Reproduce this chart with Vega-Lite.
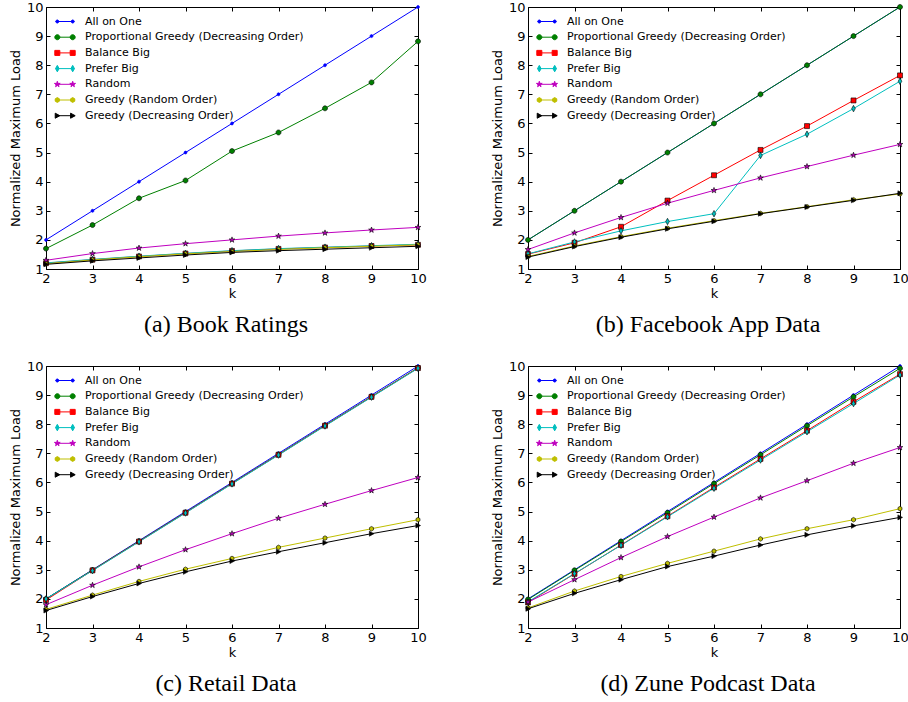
{
"$schema": "https://vega.github.io/schema/vega-lite/v6.json",
"background": "white",
"padding": {"left": 9, "top": 1, "right": 2, "bottom": 0},
"config": {
  "view": {"stroke": null},
  "font": "DejaVu Sans",
  "axis": {"labelFont": "DejaVu Sans", "labelFontSize": 13, "labelColor": "#000", "titleFont": "DejaVu Sans", "titleFontSize": 13, "titleFontWeight": "normal", "titleColor": "#000", "grid": false, "domainColor": "#000", "domainWidth": 1, "tickColor": "#000", "tickSize": -4, "tickWidth": 1, "labelPadding": 7, "labelFlush": false, "labelOverlap": false},
  "legend": {"labelFont": "DejaVu Sans", "labelFontSize": 11, "labelColor": "#000"}
},
"datasets": {"all": [
{"panel":"a","series":"All on One","k":2,"load":2},{"panel":"a","series":"All on One","k":3,"load":3},{"panel":"a","series":"All on One","k":4,"load":4},{"panel":"a","series":"All on One","k":5,"load":5},{"panel":"a","series":"All on One","k":6,"load":6},{"panel":"a","series":"All on One","k":7,"load":7},{"panel":"a","series":"All on One","k":8,"load":8},{"panel":"a","series":"All on One","k":9,"load":9},{"panel":"a","series":"All on One","k":10,"load":10},
{"panel":"a","series":"Proportional Greedy (Decreasing Order)","k":2,"load":1.70},{"panel":"a","series":"Proportional Greedy (Decreasing Order)","k":3,"load":2.51},{"panel":"a","series":"Proportional Greedy (Decreasing Order)","k":4,"load":3.43},{"panel":"a","series":"Proportional Greedy (Decreasing Order)","k":5,"load":4.04},{"panel":"a","series":"Proportional Greedy (Decreasing Order)","k":6,"load":5.05},{"panel":"a","series":"Proportional Greedy (Decreasing Order)","k":7,"load":5.69},{"panel":"a","series":"Proportional Greedy (Decreasing Order)","k":8,"load":6.52},{"panel":"a","series":"Proportional Greedy (Decreasing Order)","k":9,"load":7.41},{"panel":"a","series":"Proportional Greedy (Decreasing Order)","k":10,"load":8.82},
{"panel":"a","series":"Balance Big","k":2,"load":1.20},{"panel":"a","series":"Balance Big","k":3,"load":1.32},{"panel":"a","series":"Balance Big","k":4,"load":1.43},{"panel":"a","series":"Balance Big","k":5,"load":1.53},{"panel":"a","series":"Balance Big","k":6,"load":1.62},{"panel":"a","series":"Balance Big","k":7,"load":1.69},{"panel":"a","series":"Balance Big","k":8,"load":1.74},{"panel":"a","series":"Balance Big","k":9,"load":1.79},{"panel":"a","series":"Balance Big","k":10,"load":1.83},
{"panel":"a","series":"Prefer Big","k":2,"load":1.21},{"panel":"a","series":"Prefer Big","k":3,"load":1.33},{"panel":"a","series":"Prefer Big","k":4,"load":1.44},{"panel":"a","series":"Prefer Big","k":5,"load":1.54},{"panel":"a","series":"Prefer Big","k":6,"load":1.63},{"panel":"a","series":"Prefer Big","k":7,"load":1.70},{"panel":"a","series":"Prefer Big","k":8,"load":1.75},{"panel":"a","series":"Prefer Big","k":9,"load":1.80},{"panel":"a","series":"Prefer Big","k":10,"load":1.85},
{"panel":"a","series":"Random","k":2,"load":1.30},{"panel":"a","series":"Random","k":3,"load":1.53},{"panel":"a","series":"Random","k":4,"load":1.72},{"panel":"a","series":"Random","k":5,"load":1.87},{"panel":"a","series":"Random","k":6,"load":2.00},{"panel":"a","series":"Random","k":7,"load":2.13},{"panel":"a","series":"Random","k":8,"load":2.24},{"panel":"a","series":"Random","k":9,"load":2.34},{"panel":"a","series":"Random","k":10,"load":2.43},
{"panel":"a","series":"Greedy (Random Order)","k":2,"load":1.18},{"panel":"a","series":"Greedy (Random Order)","k":3,"load":1.31},{"panel":"a","series":"Greedy (Random Order)","k":4,"load":1.42},{"panel":"a","series":"Greedy (Random Order)","k":5,"load":1.52},{"panel":"a","series":"Greedy (Random Order)","k":6,"load":1.60},{"panel":"a","series":"Greedy (Random Order)","k":7,"load":1.67},{"panel":"a","series":"Greedy (Random Order)","k":8,"load":1.73},{"panel":"a","series":"Greedy (Random Order)","k":9,"load":1.78},{"panel":"a","series":"Greedy (Random Order)","k":10,"load":1.83},
{"panel":"a","series":"Greedy (Decreasing Order)","k":2,"load":1.16},{"panel":"a","series":"Greedy (Decreasing Order)","k":3,"load":1.28},{"panel":"a","series":"Greedy (Decreasing Order)","k":4,"load":1.38},{"panel":"a","series":"Greedy (Decreasing Order)","k":5,"load":1.48},{"panel":"a","series":"Greedy (Decreasing Order)","k":6,"load":1.57},{"panel":"a","series":"Greedy (Decreasing Order)","k":7,"load":1.63},{"panel":"a","series":"Greedy (Decreasing Order)","k":8,"load":1.68},{"panel":"a","series":"Greedy (Decreasing Order)","k":9,"load":1.73},{"panel":"a","series":"Greedy (Decreasing Order)","k":10,"load":1.78},

{"panel":"b","series":"All on One","k":2,"load":2},{"panel":"b","series":"All on One","k":3,"load":3},{"panel":"b","series":"All on One","k":4,"load":4},{"panel":"b","series":"All on One","k":5,"load":5},{"panel":"b","series":"All on One","k":6,"load":6},{"panel":"b","series":"All on One","k":7,"load":7},{"panel":"b","series":"All on One","k":8,"load":8},{"panel":"b","series":"All on One","k":9,"load":9},{"panel":"b","series":"All on One","k":10,"load":10},
{"panel":"b","series":"Proportional Greedy (Decreasing Order)","k":2,"load":2},{"panel":"b","series":"Proportional Greedy (Decreasing Order)","k":3,"load":3},{"panel":"b","series":"Proportional Greedy (Decreasing Order)","k":4,"load":4},{"panel":"b","series":"Proportional Greedy (Decreasing Order)","k":5,"load":5},{"panel":"b","series":"Proportional Greedy (Decreasing Order)","k":6,"load":6},{"panel":"b","series":"Proportional Greedy (Decreasing Order)","k":7,"load":7},{"panel":"b","series":"Proportional Greedy (Decreasing Order)","k":8,"load":8},{"panel":"b","series":"Proportional Greedy (Decreasing Order)","k":9,"load":9},{"panel":"b","series":"Proportional Greedy (Decreasing Order)","k":10,"load":10},
{"panel":"b","series":"Balance Big","k":2,"load":1.51},{"panel":"b","series":"Balance Big","k":3,"load":1.90},{"panel":"b","series":"Balance Big","k":4,"load":2.45},{"panel":"b","series":"Balance Big","k":5,"load":3.35},{"panel":"b","series":"Balance Big","k":6,"load":4.22},{"panel":"b","series":"Balance Big","k":7,"load":5.09},{"panel":"b","series":"Balance Big","k":8,"load":5.91},{"panel":"b","series":"Balance Big","k":9,"load":6.79},{"panel":"b","series":"Balance Big","k":10,"load":7.65},
{"panel":"b","series":"Prefer Big","k":2,"load":1.52},{"panel":"b","series":"Prefer Big","k":3,"load":1.93},{"panel":"b","series":"Prefer Big","k":4,"load":2.31},{"panel":"b","series":"Prefer Big","k":5,"load":2.63},{"panel":"b","series":"Prefer Big","k":6,"load":2.90},{"panel":"b","series":"Prefer Big","k":7,"load":4.90},{"panel":"b","series":"Prefer Big","k":8,"load":5.63},{"panel":"b","series":"Prefer Big","k":9,"load":6.51},{"panel":"b","series":"Prefer Big","k":10,"load":7.45},
{"panel":"b","series":"Random","k":2,"load":1.67},{"panel":"b","series":"Random","k":3,"load":2.24},{"panel":"b","series":"Random","k":4,"load":2.77},{"panel":"b","series":"Random","k":5,"load":3.26},{"panel":"b","series":"Random","k":6,"load":3.70},{"panel":"b","series":"Random","k":7,"load":4.13},{"panel":"b","series":"Random","k":8,"load":4.52},{"panel":"b","series":"Random","k":9,"load":4.91},{"panel":"b","series":"Random","k":10,"load":5.28},
{"panel":"b","series":"Greedy (Random Order)","k":2,"load":1.43},{"panel":"b","series":"Greedy (Random Order)","k":3,"load":1.79},{"panel":"b","series":"Greedy (Random Order)","k":4,"load":2.11},{"panel":"b","series":"Greedy (Random Order)","k":5,"load":2.40},{"panel":"b","series":"Greedy (Random Order)","k":6,"load":2.66},{"panel":"b","series":"Greedy (Random Order)","k":7,"load":2.91},{"panel":"b","series":"Greedy (Random Order)","k":8,"load":3.14},{"panel":"b","series":"Greedy (Random Order)","k":9,"load":3.38},{"panel":"b","series":"Greedy (Random Order)","k":10,"load":3.58},
{"panel":"b","series":"Greedy (Decreasing Order)","k":2,"load":1.41},{"panel":"b","series":"Greedy (Decreasing Order)","k":3,"load":1.77},{"panel":"b","series":"Greedy (Decreasing Order)","k":4,"load":2.09},{"panel":"b","series":"Greedy (Decreasing Order)","k":5,"load":2.38},{"panel":"b","series":"Greedy (Decreasing Order)","k":6,"load":2.64},{"panel":"b","series":"Greedy (Decreasing Order)","k":7,"load":2.90},{"panel":"b","series":"Greedy (Decreasing Order)","k":8,"load":3.13},{"panel":"b","series":"Greedy (Decreasing Order)","k":9,"load":3.36},{"panel":"b","series":"Greedy (Decreasing Order)","k":10,"load":3.60},

{"panel":"c","series":"All on One","k":2,"load":2},{"panel":"c","series":"All on One","k":3,"load":3},{"panel":"c","series":"All on One","k":4,"load":4},{"panel":"c","series":"All on One","k":5,"load":5},{"panel":"c","series":"All on One","k":6,"load":6},{"panel":"c","series":"All on One","k":7,"load":7},{"panel":"c","series":"All on One","k":8,"load":8},{"panel":"c","series":"All on One","k":9,"load":9},{"panel":"c","series":"All on One","k":10,"load":10},
{"panel":"c","series":"Proportional Greedy (Decreasing Order)","k":2,"load":2.00},{"panel":"c","series":"Proportional Greedy (Decreasing Order)","k":3,"load":2.99},{"panel":"c","series":"Proportional Greedy (Decreasing Order)","k":4,"load":3.98},{"panel":"c","series":"Proportional Greedy (Decreasing Order)","k":5,"load":4.97},{"panel":"c","series":"Proportional Greedy (Decreasing Order)","k":6,"load":5.97},{"panel":"c","series":"Proportional Greedy (Decreasing Order)","k":7,"load":6.96},{"panel":"c","series":"Proportional Greedy (Decreasing Order)","k":8,"load":7.96},{"panel":"c","series":"Proportional Greedy (Decreasing Order)","k":9,"load":8.95},{"panel":"c","series":"Proportional Greedy (Decreasing Order)","k":10,"load":9.94},
{"panel":"c","series":"Balance Big","k":2,"load":1.96},{"panel":"c","series":"Balance Big","k":3,"load":2.98},{"panel":"c","series":"Balance Big","k":4,"load":3.97},{"panel":"c","series":"Balance Big","k":5,"load":4.96},{"panel":"c","series":"Balance Big","k":6,"load":5.96},{"panel":"c","series":"Balance Big","k":7,"load":6.95},{"panel":"c","series":"Balance Big","k":8,"load":7.95},{"panel":"c","series":"Balance Big","k":9,"load":8.94},{"panel":"c","series":"Balance Big","k":10,"load":9.93},
{"panel":"c","series":"Prefer Big","k":2,"load":2.00},{"panel":"c","series":"Prefer Big","k":3,"load":2.97},{"panel":"c","series":"Prefer Big","k":4,"load":3.96},{"panel":"c","series":"Prefer Big","k":5,"load":4.95},{"panel":"c","series":"Prefer Big","k":6,"load":5.95},{"panel":"c","series":"Prefer Big","k":7,"load":6.94},{"panel":"c","series":"Prefer Big","k":8,"load":7.94},{"panel":"c","series":"Prefer Big","k":9,"load":8.93},{"panel":"c","series":"Prefer Big","k":10,"load":9.92},
{"panel":"c","series":"Random","k":2,"load":1.80},{"panel":"c","series":"Random","k":3,"load":2.47},{"panel":"c","series":"Random","k":4,"load":3.10},{"panel":"c","series":"Random","k":5,"load":3.69},{"panel":"c","series":"Random","k":6,"load":4.24},{"panel":"c","series":"Random","k":7,"load":4.77},{"panel":"c","series":"Random","k":8,"load":5.25},{"panel":"c","series":"Random","k":9,"load":5.72},{"panel":"c","series":"Random","k":10,"load":6.17},
{"panel":"c","series":"Greedy (Random Order)","k":2,"load":1.64},{"panel":"c","series":"Greedy (Random Order)","k":3,"load":2.13},{"panel":"c","series":"Greedy (Random Order)","k":4,"load":2.60},{"panel":"c","series":"Greedy (Random Order)","k":5,"load":3.02},{"panel":"c","series":"Greedy (Random Order)","k":6,"load":3.39},{"panel":"c","series":"Greedy (Random Order)","k":7,"load":3.77},{"panel":"c","series":"Greedy (Random Order)","k":8,"load":4.09},{"panel":"c","series":"Greedy (Random Order)","k":9,"load":4.41},{"panel":"c","series":"Greedy (Random Order)","k":10,"load":4.72},
{"panel":"c","series":"Greedy (Decreasing Order)","k":2,"load":1.60},{"panel":"c","series":"Greedy (Decreasing Order)","k":3,"load":2.08},{"panel":"c","series":"Greedy (Decreasing Order)","k":4,"load":2.53},{"panel":"c","series":"Greedy (Decreasing Order)","k":5,"load":2.93},{"panel":"c","series":"Greedy (Decreasing Order)","k":6,"load":3.30},{"panel":"c","series":"Greedy (Decreasing Order)","k":7,"load":3.62},{"panel":"c","series":"Greedy (Decreasing Order)","k":8,"load":3.93},{"panel":"c","series":"Greedy (Decreasing Order)","k":9,"load":4.24},{"panel":"c","series":"Greedy (Decreasing Order)","k":10,"load":4.52},

{"panel":"d","series":"All on One","k":2,"load":2},{"panel":"d","series":"All on One","k":3,"load":3},{"panel":"d","series":"All on One","k":4,"load":4},{"panel":"d","series":"All on One","k":5,"load":5},{"panel":"d","series":"All on One","k":6,"load":6},{"panel":"d","series":"All on One","k":7,"load":7},{"panel":"d","series":"All on One","k":8,"load":8},{"panel":"d","series":"All on One","k":9,"load":9},{"panel":"d","series":"All on One","k":10,"load":10},
{"panel":"d","series":"Proportional Greedy (Decreasing Order)","k":2,"load":1.98},{"panel":"d","series":"Proportional Greedy (Decreasing Order)","k":3,"load":2.98},{"panel":"d","series":"Proportional Greedy (Decreasing Order)","k":4,"load":3.97},{"panel":"d","series":"Proportional Greedy (Decreasing Order)","k":5,"load":4.96},{"panel":"d","series":"Proportional Greedy (Decreasing Order)","k":6,"load":5.96},{"panel":"d","series":"Proportional Greedy (Decreasing Order)","k":7,"load":6.95},{"panel":"d","series":"Proportional Greedy (Decreasing Order)","k":8,"load":7.95},{"panel":"d","series":"Proportional Greedy (Decreasing Order)","k":9,"load":8.94},{"panel":"d","series":"Proportional Greedy (Decreasing Order)","k":10,"load":9.92},
{"panel":"d","series":"Balance Big","k":2,"load":1.88},{"panel":"d","series":"Balance Big","k":3,"load":2.86},{"panel":"d","series":"Balance Big","k":4,"load":3.85},{"panel":"d","series":"Balance Big","k":5,"load":4.84},{"panel":"d","series":"Balance Big","k":6,"load":5.83},{"panel":"d","series":"Balance Big","k":7,"load":6.81},{"panel":"d","series":"Balance Big","k":8,"load":7.78},{"panel":"d","series":"Balance Big","k":9,"load":8.77},{"panel":"d","series":"Balance Big","k":10,"load":9.72},
{"panel":"d","series":"Prefer Big","k":2,"load":1.90},{"panel":"d","series":"Prefer Big","k":3,"load":2.87},{"panel":"d","series":"Prefer Big","k":4,"load":3.84},{"panel":"d","series":"Prefer Big","k":5,"load":4.82},{"panel":"d","series":"Prefer Big","k":6,"load":5.80},{"panel":"d","series":"Prefer Big","k":7,"load":6.77},{"panel":"d","series":"Prefer Big","k":8,"load":7.74},{"panel":"d","series":"Prefer Big","k":9,"load":8.71},{"panel":"d","series":"Prefer Big","k":10,"load":9.69},
{"panel":"d","series":"Random","k":2,"load":1.89},{"panel":"d","series":"Random","k":3,"load":2.66},{"panel":"d","series":"Random","k":4,"load":3.42},{"panel":"d","series":"Random","k":5,"load":4.14},{"panel":"d","series":"Random","k":6,"load":4.81},{"panel":"d","series":"Random","k":7,"load":5.47},{"panel":"d","series":"Random","k":8,"load":6.06},{"panel":"d","series":"Random","k":9,"load":6.66},{"panel":"d","series":"Random","k":10,"load":7.20},
{"panel":"d","series":"Greedy (Random Order)","k":2,"load":1.69},{"panel":"d","series":"Greedy (Random Order)","k":3,"load":2.27},{"panel":"d","series":"Greedy (Random Order)","k":4,"load":2.77},{"panel":"d","series":"Greedy (Random Order)","k":5,"load":3.22},{"panel":"d","series":"Greedy (Random Order)","k":6,"load":3.64},{"panel":"d","series":"Greedy (Random Order)","k":7,"load":4.06},{"panel":"d","series":"Greedy (Random Order)","k":8,"load":4.41},{"panel":"d","series":"Greedy (Random Order)","k":9,"load":4.72},{"panel":"d","series":"Greedy (Random Order)","k":10,"load":5.10},
{"panel":"d","series":"Greedy (Decreasing Order)","k":2,"load":1.66},{"panel":"d","series":"Greedy (Decreasing Order)","k":3,"load":2.19},{"panel":"d","series":"Greedy (Decreasing Order)","k":4,"load":2.66},{"panel":"d","series":"Greedy (Decreasing Order)","k":5,"load":3.11},{"panel":"d","series":"Greedy (Decreasing Order)","k":6,"load":3.47},{"panel":"d","series":"Greedy (Decreasing Order)","k":7,"load":3.85},{"panel":"d","series":"Greedy (Decreasing Order)","k":8,"load":4.20},{"panel":"d","series":"Greedy (Decreasing Order)","k":9,"load":4.51},{"panel":"d","series":"Greedy (Decreasing Order)","k":10,"load":4.80}
]},
"data": {"name": "all"},
"spacing": 23,
"vconcat": [
{"hconcat": [
{"width": 372, "height": 262,
 "title": {"text": "(a) Book Ratings", "orient": "bottom", "font": "Liberation Serif", "fontSize": 24, "fontWeight": "normal", "color": "#000", "offset": 13, "dx": -6},
 "transform": [{"filter": "datum.panel === 'a'"}],
 "layer": [
  {"mark": {"type": "line", "strokeWidth": 1},
   "encoding": {
    "x": {"field": "k", "type": "quantitative", "scale": {"domain": [2, 10], "nice": false, "zero": false}, "axis": {"orient": "bottom", "values": [2,3,4,5,6,7,8,9,10], "title": "k", "titlePadding": 2}},
    "y": {"field": "load", "type": "quantitative", "scale": {"domain": [1, 10], "nice": false, "zero": false}, "axis": {"orient": "left", "values": [1,2,3,4,5,6,7,8,9,10], "title": "Normalized Maximum Load", "titlePadding": 4}},
    "color": {"field": "series", "type": "nominal", "scale": {"domain": ["All on One","Proportional Greedy (Decreasing Order)","Balance Big","Prefer Big","Random","Greedy (Random Order)","Greedy (Decreasing Order)"], "range": ["#0000ff","#008000","#ff0000","#00bfbf","#bf00bf","#bfbf00","#000000"]}, "legend": null}}},
  {"mark": {"type": "point", "filled": true, "opacity": 1, "strokeWidth": 0.6, "size": 100},
   "encoding": {
    "x": {"field": "k", "type": "quantitative", "axis": null},
    "y": {"field": "load", "type": "quantitative", "axis": null},
    "color": {"field": "series", "type": "nominal", "legend": null},
    "stroke": {"field": "series", "type": "nominal", "scale": {"domain": ["All on One","Proportional Greedy (Decreasing Order)","Balance Big","Prefer Big","Random","Greedy (Random Order)","Greedy (Decreasing Order)"], "range": ["#0000ff","#000000","#000000","#000000","#000000","#000000","#000000"]}, "legend": null},
    "shape": {"field": "series", "type": "nominal", "scale": {"domain": ["All on One","Proportional Greedy (Decreasing Order)","Balance Big","Prefer Big","Random","Greedy (Random Order)","Greedy (Decreasing Order)"], "range": ["M-0.3,0A0.3,0.3 0 1,0 0.3,0A0.3,0.3 0 1,0 -0.3,0Z","M-0.5,0A0.5,0.5 0 1,0 0.5,0A0.5,0.5 0 1,0 -0.5,0Z","M-0.5,-0.5H0.5V0.5H-0.5Z","M0,-0.65L0.36,0L0,0.65L-0.36,0Z","M0,-0.6L0.135,-0.185L0.571,-0.185L0.218,0.071L0.353,0.485L0,0.229L-0.353,0.485L-0.218,0.071L-0.571,-0.185L-0.135,-0.185Z","M0,-0.46L0.4,-0.23L0.4,0.23L0,0.46L-0.4,0.23L-0.4,-0.23Z","M0.5,0L-0.42,-0.5L-0.42,0.5Z"]}, "legend": null}}},
  {"transform": [{"filter": "datum.k > 100"}],
   "mark": {"type": "point", "filled": true, "opacity": 1, "strokeWidth": 1},
   "encoding": {
    "x": {"field": "k", "type": "quantitative", "axis": {"orient": "top", "values": [2,3,4,5,6,7,8,9,10], "labels": false, "title": null}},
    "y": {"field": "load", "type": "quantitative", "axis": {"orient": "right", "values": [1,2,3,4,5,6,7,8,9,10], "labels": false, "title": null}},
    "fill": {"field": "series", "type": "nominal", "scale": {"domain": ["All on One","Proportional Greedy (Decreasing Order)","Balance Big","Prefer Big","Random","Greedy (Random Order)","Greedy (Decreasing Order)"], "range": ["#0000ff","#008000","#ff0000","#00bfbf","#bf00bf","#bfbf00","#000000"]}, "legend": {"title": null, "orient": "none", "legendX": 12.5, "legendY": 8, "padding": 0, "symbolSize": 144, "rowPadding": 3.7, "labelOffset": 13.5, "labelFontSize": 11, "symbolStrokeWidth": 1, "labelLimit": 400}},
    "stroke": {"field": "series", "type": "nominal", "scale": {"domain": ["All on One","Proportional Greedy (Decreasing Order)","Balance Big","Prefer Big","Random","Greedy (Random Order)","Greedy (Decreasing Order)"], "range": ["#0000ff","#008000","#ff0000","#00bfbf","#bf00bf","#bfbf00","#000000"]}, "legend": {"title": null, "orient": "none", "legendX": 12.5, "legendY": 8, "padding": 0, "symbolSize": 144, "rowPadding": 3.7, "labelOffset": 13.5, "labelFontSize": 11, "symbolStrokeWidth": 1, "labelLimit": 400}},
    "shape": {"field": "series", "type": "nominal", "scale": {"domain": ["All on One","Proportional Greedy (Decreasing Order)","Balance Big","Prefer Big","Random","Greedy (Random Order)","Greedy (Decreasing Order)"], "range": ["M-1.58,0H1.58M-1.53,0A0.25,0.25 0 1,0 -1.03,0A0.25,0.25 0 1,0 -1.53,0ZM1.03,0A0.25,0.25 0 1,0 1.53,0A0.25,0.25 0 1,0 1.03,0Z","M-1.58,0H1.58M-1.70,0A0.42,0.42 0 1,0 -0.86,0A0.42,0.42 0 1,0 -1.70,0ZM0.86,0A0.42,0.42 0 1,0 1.70,0A0.42,0.42 0 1,0 0.86,0Z","M-1.58,0H1.58M-1.70,-0.42H-0.86V0.42H-1.70ZM0.86,-0.42H1.70V0.42H0.86Z","M-1.58,0H1.58M-1.28,-0.54L-0.98,0L-1.28,0.54L-1.58,0ZM1.28,-0.54L1.58,0L1.28,0.54L0.98,0Z","M-1.58,0H1.58M-1.28,-0.5L-1.17,-0.15L-0.80,-0.15L-1.10,0.06L-0.99,0.40L-1.28,0.19L-1.57,0.40L-1.46,0.06L-1.76,-0.15L-1.39,-0.15ZM1.28,-0.5L1.39,-0.15L1.76,-0.15L1.46,0.06L1.57,0.40L1.28,0.19L0.99,0.40L1.10,0.06L0.80,-0.15L1.17,-0.15Z","M-1.58,0H1.58M-1.28,-0.40L-0.93,-0.20L-0.93,0.20L-1.28,0.40L-1.63,0.20L-1.63,-0.20ZM1.28,-0.40L1.63,-0.20L1.63,0.20L1.28,0.40L0.93,0.20L0.93,-0.20Z","M-1.58,0H1.58M-0.86,0L-1.63,-0.42L-1.63,0.42ZM1.70,0L0.93,-0.42L0.93,0.42Z"]}, "legend": {"title": null, "orient": "none", "legendX": 12.5, "legendY": 8, "padding": 0, "symbolSize": 144, "rowPadding": 3.7, "labelOffset": 13.5, "labelFontSize": 11, "symbolStrokeWidth": 1, "labelLimit": 400}}}}
 ],
 "resolve": {"scale": {"shape": "independent", "fill": "independent", "stroke": "independent"}, "axis": {"x": "independent", "y": "independent"}}
},
{"width": 372, "height": 262,
 "title": {"text": "(b) Facebook App Data", "orient": "bottom", "font": "Liberation Serif", "fontSize": 24, "fontWeight": "normal", "color": "#000", "offset": 13, "dx": -6},
 "transform": [{"filter": "datum.panel === 'b'"}],
 "layer": [
  {"mark": {"type": "line", "strokeWidth": 1},
   "encoding": {
    "x": {"field": "k", "type": "quantitative", "scale": {"domain": [2, 10], "nice": false, "zero": false}, "axis": {"orient": "bottom", "values": [2,3,4,5,6,7,8,9,10], "title": "k", "titlePadding": 2}},
    "y": {"field": "load", "type": "quantitative", "scale": {"domain": [1, 10], "nice": false, "zero": false}, "axis": {"orient": "left", "values": [1,2,3,4,5,6,7,8,9,10], "title": "Normalized Maximum Load", "titlePadding": 4}},
    "color": {"field": "series", "type": "nominal", "scale": {"domain": ["All on One","Proportional Greedy (Decreasing Order)","Balance Big","Prefer Big","Random","Greedy (Random Order)","Greedy (Decreasing Order)"], "range": ["#0000ff","#008000","#ff0000","#00bfbf","#bf00bf","#bfbf00","#000000"]}, "legend": null}}},
  {"mark": {"type": "point", "filled": true, "opacity": 1, "strokeWidth": 0.6, "size": 100},
   "encoding": {
    "x": {"field": "k", "type": "quantitative", "axis": null},
    "y": {"field": "load", "type": "quantitative", "axis": null},
    "color": {"field": "series", "type": "nominal", "legend": null},
    "stroke": {"field": "series", "type": "nominal", "scale": {"domain": ["All on One","Proportional Greedy (Decreasing Order)","Balance Big","Prefer Big","Random","Greedy (Random Order)","Greedy (Decreasing Order)"], "range": ["#0000ff","#000000","#000000","#000000","#000000","#000000","#000000"]}, "legend": null},
    "shape": {"field": "series", "type": "nominal", "scale": {"domain": ["All on One","Proportional Greedy (Decreasing Order)","Balance Big","Prefer Big","Random","Greedy (Random Order)","Greedy (Decreasing Order)"], "range": ["M-0.3,0A0.3,0.3 0 1,0 0.3,0A0.3,0.3 0 1,0 -0.3,0Z","M-0.5,0A0.5,0.5 0 1,0 0.5,0A0.5,0.5 0 1,0 -0.5,0Z","M-0.5,-0.5H0.5V0.5H-0.5Z","M0,-0.65L0.36,0L0,0.65L-0.36,0Z","M0,-0.6L0.135,-0.185L0.571,-0.185L0.218,0.071L0.353,0.485L0,0.229L-0.353,0.485L-0.218,0.071L-0.571,-0.185L-0.135,-0.185Z","M0,-0.46L0.4,-0.23L0.4,0.23L0,0.46L-0.4,0.23L-0.4,-0.23Z","M0.5,0L-0.42,-0.5L-0.42,0.5Z"]}, "legend": null}}},
  {"transform": [{"filter": "datum.k > 100"}],
   "mark": {"type": "point", "filled": true, "opacity": 1, "strokeWidth": 1},
   "encoding": {
    "x": {"field": "k", "type": "quantitative", "axis": {"orient": "top", "values": [2,3,4,5,6,7,8,9,10], "labels": false, "title": null}},
    "y": {"field": "load", "type": "quantitative", "axis": {"orient": "right", "values": [1,2,3,4,5,6,7,8,9,10], "labels": false, "title": null}},
    "fill": {"field": "series", "type": "nominal", "scale": {"domain": ["All on One","Proportional Greedy (Decreasing Order)","Balance Big","Prefer Big","Random","Greedy (Random Order)","Greedy (Decreasing Order)"], "range": ["#0000ff","#008000","#ff0000","#00bfbf","#bf00bf","#bfbf00","#000000"]}, "legend": {"title": null, "orient": "none", "legendX": 12.5, "legendY": 8, "padding": 0, "symbolSize": 144, "rowPadding": 3.7, "labelOffset": 13.5, "labelFontSize": 11, "symbolStrokeWidth": 1, "labelLimit": 400}},
    "stroke": {"field": "series", "type": "nominal", "scale": {"domain": ["All on One","Proportional Greedy (Decreasing Order)","Balance Big","Prefer Big","Random","Greedy (Random Order)","Greedy (Decreasing Order)"], "range": ["#0000ff","#008000","#ff0000","#00bfbf","#bf00bf","#bfbf00","#000000"]}, "legend": {"title": null, "orient": "none", "legendX": 12.5, "legendY": 8, "padding": 0, "symbolSize": 144, "rowPadding": 3.7, "labelOffset": 13.5, "labelFontSize": 11, "symbolStrokeWidth": 1, "labelLimit": 400}},
    "shape": {"field": "series", "type": "nominal", "scale": {"domain": ["All on One","Proportional Greedy (Decreasing Order)","Balance Big","Prefer Big","Random","Greedy (Random Order)","Greedy (Decreasing Order)"], "range": ["M-1.58,0H1.58M-1.53,0A0.25,0.25 0 1,0 -1.03,0A0.25,0.25 0 1,0 -1.53,0ZM1.03,0A0.25,0.25 0 1,0 1.53,0A0.25,0.25 0 1,0 1.03,0Z","M-1.58,0H1.58M-1.70,0A0.42,0.42 0 1,0 -0.86,0A0.42,0.42 0 1,0 -1.70,0ZM0.86,0A0.42,0.42 0 1,0 1.70,0A0.42,0.42 0 1,0 0.86,0Z","M-1.58,0H1.58M-1.70,-0.42H-0.86V0.42H-1.70ZM0.86,-0.42H1.70V0.42H0.86Z","M-1.58,0H1.58M-1.28,-0.54L-0.98,0L-1.28,0.54L-1.58,0ZM1.28,-0.54L1.58,0L1.28,0.54L0.98,0Z","M-1.58,0H1.58M-1.28,-0.5L-1.17,-0.15L-0.80,-0.15L-1.10,0.06L-0.99,0.40L-1.28,0.19L-1.57,0.40L-1.46,0.06L-1.76,-0.15L-1.39,-0.15ZM1.28,-0.5L1.39,-0.15L1.76,-0.15L1.46,0.06L1.57,0.40L1.28,0.19L0.99,0.40L1.10,0.06L0.80,-0.15L1.17,-0.15Z","M-1.58,0H1.58M-1.28,-0.40L-0.93,-0.20L-0.93,0.20L-1.28,0.40L-1.63,0.20L-1.63,-0.20ZM1.28,-0.40L1.63,-0.20L1.63,0.20L1.28,0.40L0.93,0.20L0.93,-0.20Z","M-1.58,0H1.58M-0.86,0L-1.63,-0.42L-1.63,0.42ZM1.70,0L0.93,-0.42L0.93,0.42Z"]}, "legend": {"title": null, "orient": "none", "legendX": 12.5, "legendY": 8, "padding": 0, "symbolSize": 144, "rowPadding": 3.7, "labelOffset": 13.5, "labelFontSize": 11, "symbolStrokeWidth": 1, "labelLimit": 400}}}}
 ],
 "resolve": {"scale": {"shape": "independent", "fill": "independent", "stroke": "independent"}, "axis": {"x": "independent", "y": "independent"}}
}
], "spacing": 64},
{"hconcat": [
{"width": 372, "height": 262,
 "title": {"text": "(c) Retail Data", "orient": "bottom", "font": "Liberation Serif", "fontSize": 24, "fontWeight": "normal", "color": "#000", "offset": 13, "dx": -6},
 "transform": [{"filter": "datum.panel === 'c'"}],
 "layer": [
  {"mark": {"type": "line", "strokeWidth": 1},
   "encoding": {
    "x": {"field": "k", "type": "quantitative", "scale": {"domain": [2, 10], "nice": false, "zero": false}, "axis": {"orient": "bottom", "values": [2,3,4,5,6,7,8,9,10], "title": "k", "titlePadding": 2}},
    "y": {"field": "load", "type": "quantitative", "scale": {"domain": [1, 10], "nice": false, "zero": false}, "axis": {"orient": "left", "values": [1,2,3,4,5,6,7,8,9,10], "title": "Normalized Maximum Load", "titlePadding": 4}},
    "color": {"field": "series", "type": "nominal", "scale": {"domain": ["All on One","Proportional Greedy (Decreasing Order)","Balance Big","Prefer Big","Random","Greedy (Random Order)","Greedy (Decreasing Order)"], "range": ["#0000ff","#008000","#ff0000","#00bfbf","#bf00bf","#bfbf00","#000000"]}, "legend": null}}},
  {"mark": {"type": "point", "filled": true, "opacity": 1, "strokeWidth": 0.6, "size": 100},
   "encoding": {
    "x": {"field": "k", "type": "quantitative", "axis": null},
    "y": {"field": "load", "type": "quantitative", "axis": null},
    "color": {"field": "series", "type": "nominal", "legend": null},
    "stroke": {"field": "series", "type": "nominal", "scale": {"domain": ["All on One","Proportional Greedy (Decreasing Order)","Balance Big","Prefer Big","Random","Greedy (Random Order)","Greedy (Decreasing Order)"], "range": ["#0000ff","#000000","#000000","#000000","#000000","#000000","#000000"]}, "legend": null},
    "shape": {"field": "series", "type": "nominal", "scale": {"domain": ["All on One","Proportional Greedy (Decreasing Order)","Balance Big","Prefer Big","Random","Greedy (Random Order)","Greedy (Decreasing Order)"], "range": ["M-0.3,0A0.3,0.3 0 1,0 0.3,0A0.3,0.3 0 1,0 -0.3,0Z","M-0.5,0A0.5,0.5 0 1,0 0.5,0A0.5,0.5 0 1,0 -0.5,0Z","M-0.5,-0.5H0.5V0.5H-0.5Z","M0,-0.65L0.36,0L0,0.65L-0.36,0Z","M0,-0.6L0.135,-0.185L0.571,-0.185L0.218,0.071L0.353,0.485L0,0.229L-0.353,0.485L-0.218,0.071L-0.571,-0.185L-0.135,-0.185Z","M0,-0.46L0.4,-0.23L0.4,0.23L0,0.46L-0.4,0.23L-0.4,-0.23Z","M0.5,0L-0.42,-0.5L-0.42,0.5Z"]}, "legend": null}}},
  {"transform": [{"filter": "datum.k > 100"}],
   "mark": {"type": "point", "filled": true, "opacity": 1, "strokeWidth": 1},
   "encoding": {
    "x": {"field": "k", "type": "quantitative", "axis": {"orient": "top", "values": [2,3,4,5,6,7,8,9,10], "labels": false, "title": null}},
    "y": {"field": "load", "type": "quantitative", "axis": {"orient": "right", "values": [1,2,3,4,5,6,7,8,9,10], "labels": false, "title": null}},
    "fill": {"field": "series", "type": "nominal", "scale": {"domain": ["All on One","Proportional Greedy (Decreasing Order)","Balance Big","Prefer Big","Random","Greedy (Random Order)","Greedy (Decreasing Order)"], "range": ["#0000ff","#008000","#ff0000","#00bfbf","#bf00bf","#bfbf00","#000000"]}, "legend": {"title": null, "orient": "none", "legendX": 12.5, "legendY": 8, "padding": 0, "symbolSize": 144, "rowPadding": 3.7, "labelOffset": 13.5, "labelFontSize": 11, "symbolStrokeWidth": 1, "labelLimit": 400}},
    "stroke": {"field": "series", "type": "nominal", "scale": {"domain": ["All on One","Proportional Greedy (Decreasing Order)","Balance Big","Prefer Big","Random","Greedy (Random Order)","Greedy (Decreasing Order)"], "range": ["#0000ff","#008000","#ff0000","#00bfbf","#bf00bf","#bfbf00","#000000"]}, "legend": {"title": null, "orient": "none", "legendX": 12.5, "legendY": 8, "padding": 0, "symbolSize": 144, "rowPadding": 3.7, "labelOffset": 13.5, "labelFontSize": 11, "symbolStrokeWidth": 1, "labelLimit": 400}},
    "shape": {"field": "series", "type": "nominal", "scale": {"domain": ["All on One","Proportional Greedy (Decreasing Order)","Balance Big","Prefer Big","Random","Greedy (Random Order)","Greedy (Decreasing Order)"], "range": ["M-1.58,0H1.58M-1.53,0A0.25,0.25 0 1,0 -1.03,0A0.25,0.25 0 1,0 -1.53,0ZM1.03,0A0.25,0.25 0 1,0 1.53,0A0.25,0.25 0 1,0 1.03,0Z","M-1.58,0H1.58M-1.70,0A0.42,0.42 0 1,0 -0.86,0A0.42,0.42 0 1,0 -1.70,0ZM0.86,0A0.42,0.42 0 1,0 1.70,0A0.42,0.42 0 1,0 0.86,0Z","M-1.58,0H1.58M-1.70,-0.42H-0.86V0.42H-1.70ZM0.86,-0.42H1.70V0.42H0.86Z","M-1.58,0H1.58M-1.28,-0.54L-0.98,0L-1.28,0.54L-1.58,0ZM1.28,-0.54L1.58,0L1.28,0.54L0.98,0Z","M-1.58,0H1.58M-1.28,-0.5L-1.17,-0.15L-0.80,-0.15L-1.10,0.06L-0.99,0.40L-1.28,0.19L-1.57,0.40L-1.46,0.06L-1.76,-0.15L-1.39,-0.15ZM1.28,-0.5L1.39,-0.15L1.76,-0.15L1.46,0.06L1.57,0.40L1.28,0.19L0.99,0.40L1.10,0.06L0.80,-0.15L1.17,-0.15Z","M-1.58,0H1.58M-1.28,-0.40L-0.93,-0.20L-0.93,0.20L-1.28,0.40L-1.63,0.20L-1.63,-0.20ZM1.28,-0.40L1.63,-0.20L1.63,0.20L1.28,0.40L0.93,0.20L0.93,-0.20Z","M-1.58,0H1.58M-0.86,0L-1.63,-0.42L-1.63,0.42ZM1.70,0L0.93,-0.42L0.93,0.42Z"]}, "legend": {"title": null, "orient": "none", "legendX": 12.5, "legendY": 8, "padding": 0, "symbolSize": 144, "rowPadding": 3.7, "labelOffset": 13.5, "labelFontSize": 11, "symbolStrokeWidth": 1, "labelLimit": 400}}}}
 ],
 "resolve": {"scale": {"shape": "independent", "fill": "independent", "stroke": "independent"}, "axis": {"x": "independent", "y": "independent"}}
},
{"width": 372, "height": 262,
 "title": {"text": "(d) Zune Podcast Data", "orient": "bottom", "font": "Liberation Serif", "fontSize": 24, "fontWeight": "normal", "color": "#000", "offset": 13, "dx": -6},
 "transform": [{"filter": "datum.panel === 'd'"}],
 "layer": [
  {"mark": {"type": "line", "strokeWidth": 1},
   "encoding": {
    "x": {"field": "k", "type": "quantitative", "scale": {"domain": [2, 10], "nice": false, "zero": false}, "axis": {"orient": "bottom", "values": [2,3,4,5,6,7,8,9,10], "title": "k", "titlePadding": 2}},
    "y": {"field": "load", "type": "quantitative", "scale": {"domain": [1, 10], "nice": false, "zero": false}, "axis": {"orient": "left", "values": [1,2,3,4,5,6,7,8,9,10], "title": "Normalized Maximum Load", "titlePadding": 4}},
    "color": {"field": "series", "type": "nominal", "scale": {"domain": ["All on One","Proportional Greedy (Decreasing Order)","Balance Big","Prefer Big","Random","Greedy (Random Order)","Greedy (Decreasing Order)"], "range": ["#0000ff","#008000","#ff0000","#00bfbf","#bf00bf","#bfbf00","#000000"]}, "legend": null}}},
  {"mark": {"type": "point", "filled": true, "opacity": 1, "strokeWidth": 0.6, "size": 100},
   "encoding": {
    "x": {"field": "k", "type": "quantitative", "axis": null},
    "y": {"field": "load", "type": "quantitative", "axis": null},
    "color": {"field": "series", "type": "nominal", "legend": null},
    "stroke": {"field": "series", "type": "nominal", "scale": {"domain": ["All on One","Proportional Greedy (Decreasing Order)","Balance Big","Prefer Big","Random","Greedy (Random Order)","Greedy (Decreasing Order)"], "range": ["#0000ff","#000000","#000000","#000000","#000000","#000000","#000000"]}, "legend": null},
    "shape": {"field": "series", "type": "nominal", "scale": {"domain": ["All on One","Proportional Greedy (Decreasing Order)","Balance Big","Prefer Big","Random","Greedy (Random Order)","Greedy (Decreasing Order)"], "range": ["M-0.3,0A0.3,0.3 0 1,0 0.3,0A0.3,0.3 0 1,0 -0.3,0Z","M-0.5,0A0.5,0.5 0 1,0 0.5,0A0.5,0.5 0 1,0 -0.5,0Z","M-0.5,-0.5H0.5V0.5H-0.5Z","M0,-0.65L0.36,0L0,0.65L-0.36,0Z","M0,-0.6L0.135,-0.185L0.571,-0.185L0.218,0.071L0.353,0.485L0,0.229L-0.353,0.485L-0.218,0.071L-0.571,-0.185L-0.135,-0.185Z","M0,-0.46L0.4,-0.23L0.4,0.23L0,0.46L-0.4,0.23L-0.4,-0.23Z","M0.5,0L-0.42,-0.5L-0.42,0.5Z"]}, "legend": null}}},
  {"transform": [{"filter": "datum.k > 100"}],
   "mark": {"type": "point", "filled": true, "opacity": 1, "strokeWidth": 1},
   "encoding": {
    "x": {"field": "k", "type": "quantitative", "axis": {"orient": "top", "values": [2,3,4,5,6,7,8,9,10], "labels": false, "title": null}},
    "y": {"field": "load", "type": "quantitative", "axis": {"orient": "right", "values": [1,2,3,4,5,6,7,8,9,10], "labels": false, "title": null}},
    "fill": {"field": "series", "type": "nominal", "scale": {"domain": ["All on One","Proportional Greedy (Decreasing Order)","Balance Big","Prefer Big","Random","Greedy (Random Order)","Greedy (Decreasing Order)"], "range": ["#0000ff","#008000","#ff0000","#00bfbf","#bf00bf","#bfbf00","#000000"]}, "legend": {"title": null, "orient": "none", "legendX": 12.5, "legendY": 8, "padding": 0, "symbolSize": 144, "rowPadding": 3.7, "labelOffset": 13.5, "labelFontSize": 11, "symbolStrokeWidth": 1, "labelLimit": 400}},
    "stroke": {"field": "series", "type": "nominal", "scale": {"domain": ["All on One","Proportional Greedy (Decreasing Order)","Balance Big","Prefer Big","Random","Greedy (Random Order)","Greedy (Decreasing Order)"], "range": ["#0000ff","#008000","#ff0000","#00bfbf","#bf00bf","#bfbf00","#000000"]}, "legend": {"title": null, "orient": "none", "legendX": 12.5, "legendY": 8, "padding": 0, "symbolSize": 144, "rowPadding": 3.7, "labelOffset": 13.5, "labelFontSize": 11, "symbolStrokeWidth": 1, "labelLimit": 400}},
    "shape": {"field": "series", "type": "nominal", "scale": {"domain": ["All on One","Proportional Greedy (Decreasing Order)","Balance Big","Prefer Big","Random","Greedy (Random Order)","Greedy (Decreasing Order)"], "range": ["M-1.58,0H1.58M-1.53,0A0.25,0.25 0 1,0 -1.03,0A0.25,0.25 0 1,0 -1.53,0ZM1.03,0A0.25,0.25 0 1,0 1.53,0A0.25,0.25 0 1,0 1.03,0Z","M-1.58,0H1.58M-1.70,0A0.42,0.42 0 1,0 -0.86,0A0.42,0.42 0 1,0 -1.70,0ZM0.86,0A0.42,0.42 0 1,0 1.70,0A0.42,0.42 0 1,0 0.86,0Z","M-1.58,0H1.58M-1.70,-0.42H-0.86V0.42H-1.70ZM0.86,-0.42H1.70V0.42H0.86Z","M-1.58,0H1.58M-1.28,-0.54L-0.98,0L-1.28,0.54L-1.58,0ZM1.28,-0.54L1.58,0L1.28,0.54L0.98,0Z","M-1.58,0H1.58M-1.28,-0.5L-1.17,-0.15L-0.80,-0.15L-1.10,0.06L-0.99,0.40L-1.28,0.19L-1.57,0.40L-1.46,0.06L-1.76,-0.15L-1.39,-0.15ZM1.28,-0.5L1.39,-0.15L1.76,-0.15L1.46,0.06L1.57,0.40L1.28,0.19L0.99,0.40L1.10,0.06L0.80,-0.15L1.17,-0.15Z","M-1.58,0H1.58M-1.28,-0.40L-0.93,-0.20L-0.93,0.20L-1.28,0.40L-1.63,0.20L-1.63,-0.20ZM1.28,-0.40L1.63,-0.20L1.63,0.20L1.28,0.40L0.93,0.20L0.93,-0.20Z","M-1.58,0H1.58M-0.86,0L-1.63,-0.42L-1.63,0.42ZM1.70,0L0.93,-0.42L0.93,0.42Z"]}, "legend": {"title": null, "orient": "none", "legendX": 12.5, "legendY": 8, "padding": 0, "symbolSize": 144, "rowPadding": 3.7, "labelOffset": 13.5, "labelFontSize": 11, "symbolStrokeWidth": 1, "labelLimit": 400}}}}
 ],
 "resolve": {"scale": {"shape": "independent", "fill": "independent", "stroke": "independent"}, "axis": {"x": "independent", "y": "independent"}}
}
], "spacing": 64}
]
}
